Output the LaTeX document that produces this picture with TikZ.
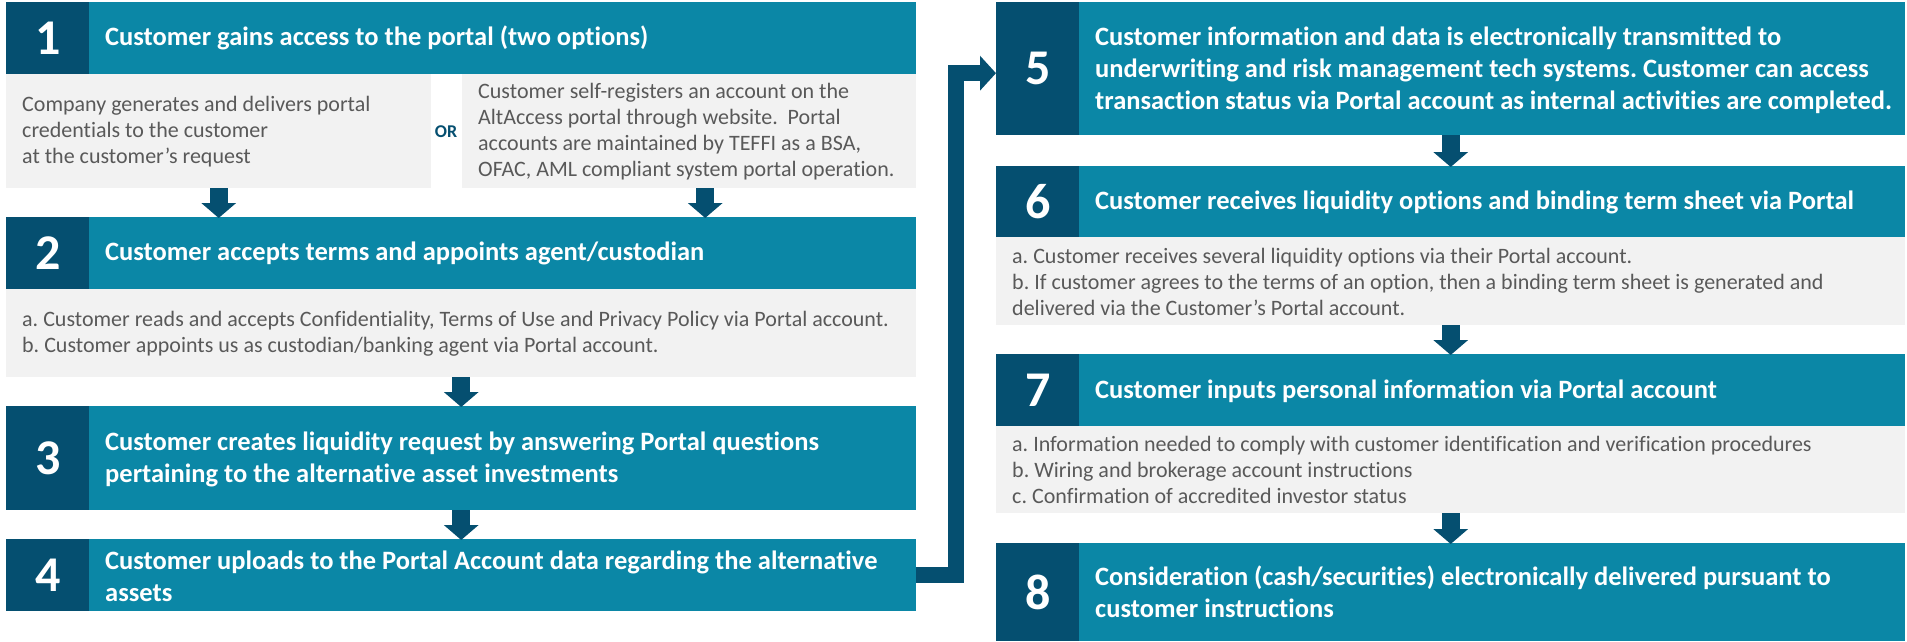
\documentclass[tikz,border=0pt]{standalone}
\usepackage{fontspec}
\setmainfont{Carlito}[Ligatures={NoCommon}]
\frenchspacing
\usetikzlibrary{arrows.meta}
\definecolor{teal1}{RGB}{11,135,166}
\definecolor{navy1}{RGB}{5,79,112}
\definecolor{gray1}{RGB}{242,242,242}
\definecolor{txtgray}{RGB}{89,89,89}
\tikzset{
  hdr/.style={rectangle,fill=teal1,draw=none,inner sep=0pt,anchor=north west},
  numbox/.style={rectangle,fill=navy1,draw=none,inner sep=0pt,anchor=north west,minimum width=83pt,text=white,font=\bfseries\fontsize{50}{50}\selectfont},
  gbox/.style={rectangle,fill=gray1,draw=none,inner sep=0pt,anchor=north west},
  htext/.style={anchor=west,inner sep=0pt,align=left,text=white,font=\bfseries\fontsize{26.5}{32}\selectfont},
  gtext/.style={anchor=west,inner sep=0pt,align=left,text=txtgray,font=\fontsize{22}{26}\selectfont},
  downarr/.style={draw=navy1,line width=18pt,-{Triangle[length=15pt,width=34pt]},shorten >=-1pt},
  conn/.style={draw=navy1,line width=16pt,line join=miter,-{Triangle[length=16pt,width=34pt]}}
}
\begin{document}
\begin{tikzpicture}[x=1pt,y=-1pt]
\useasboundingbox (0,0) rectangle (1907,642);
% left column
\node[hdr,minimum width=910pt,minimum height=72pt] (h1) at (6,2) {};
\node[numbox,minimum height=72pt] (n1) at (6,2) {1};
\node[htext] (t1) at (105,38) {Customer gains access to the portal (two options)};
\node[gbox,minimum width=425pt,minimum height=114pt] (g1l) at (6,74) {};
\node[gbox,minimum width=454pt,minimum height=114pt] (g1r) at (462,74) {};
\node[gtext] (s1l) at (22,132) {Company generates and delivers portal\\credentials to the customer\\at the customer’s request};
\node[anchor=center,inner sep=0pt,text=navy1,font=\bfseries\fontsize{18}{20}\selectfont] (or) at (446,132) {OR};
\node[gtext] (s1r) at (478,132) {Customer self-registers an account on the\\AltAccess portal through website.\ \ Portal\\accounts are maintained by TEFFI as a BSA,\\OFAC, AML compliant system portal operation.};
\node[hdr,minimum width=910pt,minimum height=72pt] (h2) at (6,217) {};
\node[numbox,minimum height=72pt] (n2) at (6,217) {2};
\node[htext] (t2) at (105,253) {Customer accepts terms and appoints agent/custodian};
\node[gbox,minimum width=910pt,minimum height=88pt] (g2) at (6,289) {};
\node[gtext] (s2) at (22,334) {a. Customer reads and accepts Confidentiality, Terms of Use and Privacy Policy via Portal account.\\b. Customer appoints us as custodian/banking agent via Portal account.};
\node[hdr,minimum width=910pt,minimum height=104pt] (h3) at (6,406) {};
\node[numbox,minimum height=104pt] (n3) at (6,406) {3};
\node[htext] (t3) at (105,459) {Customer creates liquidity request by answering Portal questions\\pertaining to the alternative asset investments};
\node[hdr,minimum width=910pt,minimum height=72pt] (h4) at (6,539) {};
\node[numbox,minimum height=72pt] (n4) at (6,539) {4};
\node[htext] (t4) at (105,576) {Customer uploads to the Portal Account data regarding the alternative\\assets};
% right column
\node[hdr,minimum width=909pt,minimum height=133pt] (h5) at (996,2) {};
\node[numbox,minimum height=133pt] (n5) at (996,2) {5};
\node[htext] (t5) at (1095,70) {Customer information and data is electronically transmitted to\\underwriting and risk management tech systems. Customer can access\\transaction status via Portal account as internal activities are completed.};
\node[hdr,minimum width=909pt,minimum height=71pt] (h6) at (996,166) {};
\node[numbox,minimum height=71pt] (n6) at (996,166) {6};
\node[htext] (t6) at (1095,202) {Customer receives liquidity options and binding term sheet via Portal};
\node[gbox,minimum width=909pt,minimum height=88pt] (g6) at (996,237) {};
\node[gtext] (s6) at (1012,282) {a. Customer receives several liquidity options via their Portal account.\\b. If customer agrees to the terms of an option, then a binding term sheet is generated and\\delivered via the Customer’s Portal account.};
\node[hdr,minimum width=909pt,minimum height=72pt] (h7) at (996,354) {};
\node[numbox,minimum height=72pt] (n7) at (996,354) {7};
\node[htext] (t7) at (1095,391) {Customer inputs personal information via Portal account};
\node[gbox,minimum width=909pt,minimum height=87pt] (g7) at (996,426) {};
\node[gtext] (s7) at (1012,470) {a. Information needed to comply with customer identification and verification procedures\\b. Wiring and brokerage account instructions\\c. Confirmation of accredited investor status};
\node[hdr,minimum width=909pt,minimum height=98pt] (h8) at (996,543) {};
\node[numbox,minimum height=98pt] (n8) at (996,543) {8};
\node[htext] (t8) at (1095,592) {Consideration (cash/securities) electronically delivered pursuant to\\customer instructions};
% arrows
\draw[downarr] (g1l.south) -- (g1l.south |- h2.north);
\draw[downarr] ([xshift=16pt]g1r.south) -- ([xshift=16pt]g1r.south |- h2.north);
\draw[downarr] (g2.south) -- (g2.south |- h3.north);
\draw[downarr] (h3.south) -- (h3.south |- h4.north);
\draw[downarr] (h5.south) -- (h5.south |- h6.north);
\draw[downarr] (g6.south) -- (g6.south |- h7.north);
\draw[downarr] (g7.south) -- (g7.south |- h8.north);
\draw[conn] (h4.east) -- ++(40,0) |- ([yshift=-4.5pt]h5.west);
\end{tikzpicture}
\end{document}
